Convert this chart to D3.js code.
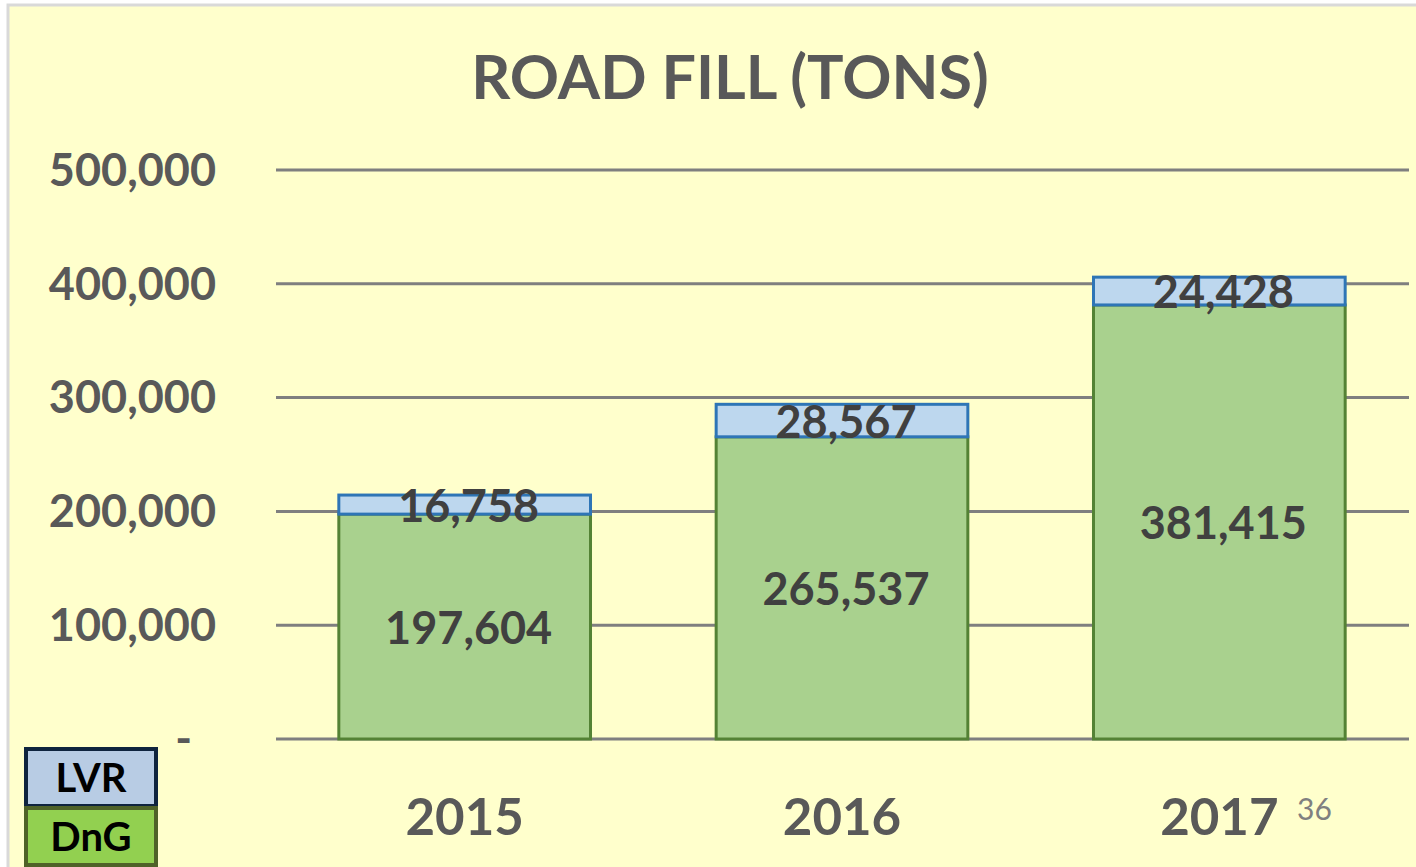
<!DOCTYPE html>
<html>
<head>
<meta charset="utf-8">
<script src="https://cdn.jsdelivr.net/npm/d3@7/dist/d3.min.js"></script>
<style>
  html, body { margin: 0; padding: 0; background: #ffffff; }
  svg { display: block; }
</style>
</head>
<body>
<div id="chart"></div>
<script>
// Chart data.
var years = [ '2015', '2016', '2017' ];
var dng_values = [ 197604, 265537, 381415 ];
var lvr_values = [ 16758, 28567, 24428 ];
var y_ticks = [ 0, 100000, 200000, 300000, 400000, 500000 ];
var legend_items = [ 'LVR', 'DnG' ];
var chart_title = 'ROAD FILL (TONS)';
var page_number = '36';

var width = 1416, height = 867;
var font = 'Lato, "Open Sans", sans-serif';

var svg = d3.select( '#chart' )
  .append( 'svg' )
    .attr( 'width', width )
    .attr( 'height', height );

// Slide background with thin frame.
svg.append( 'rect' )
  .attr( 'x', 8 ).attr( 'y', 5 )
  .attr( 'width', width ).attr( 'height', height )
  .attr( 'fill', '#ffffcc' )
  .attr( 'stroke', '#d9d9d9' )
  .attr( 'stroke-width', 3 );

// Scales.
var xScale = d3.scaleBand()
  .domain( years )
  .range( [ 276, 1408 ] )
  .paddingInner( 0.333 )
  .paddingOuter( 0.1665 );

var yScale = d3.scaleLinear()
  .domain( [ 0, 500000 ] )
  .range( [ 739, 170 ] );

// Grid lines.
svg.append( 'g' )
  .selectAll( 'line' )
  .data( y_ticks )
  .enter()
  .append( 'line' )
    .attr( 'x1', 276 )
    .attr( 'x2', 1409 )
    .attr( 'y1', function( d ){ return yScale( d ); } )
    .attr( 'y2', function( d ){ return yScale( d ); } )
    .attr( 'stroke', '#7f7f7f' )
    .attr( 'stroke-width', 3 );

// Y axis labels (use d3 axis then style).
var yAxis = svg.append( 'g' )
  .attr( 'transform', 'translate(216, 0)' )
  .call( d3.axisLeft( yScale )
    .tickValues( y_ticks )
    .tickSize( 0 )
    .tickPadding( 0 )
    .tickFormat( function( d ){ return d === 0 ? '-' : d3.format( ',' )( d ); } ) );
yAxis.select( '.domain' ).remove();
yAxis.selectAll( 'text' )
  .attr( 'dy', '0.34em' )
  .attr( 'fill', '#595959' )
  .style( 'font-family', font )
  .style( 'font-weight', 'bold' )
  .style( 'font-size', '45px' );
// Zero label dash sits a bit left.
yAxis.selectAll( '.tick' ).filter( function( d ){ return d === 0; } )
  .select( 'text' ).attr( 'x', -24 );

// X axis labels.
var xAxis = svg.append( 'g' )
  .attr( 'transform', 'translate(0, 739)' )
  .call( d3.axisBottom( xScale ).tickSize( 0 ).tickPadding( 0 ) );
xAxis.select( '.domain' ).remove();
xAxis.selectAll( 'text' )
  .attr( 'y', 96 )
  .attr( 'dy', 0 )
  .attr( 'fill', '#595959' )
  .style( 'font-family', font )
  .style( 'font-weight', 'bold' )
  .style( 'font-size', '51px' );

// Stacked bars.
var rows = years.map( function( y, i ){
  return { year: y, DnG: dng_values[ i ], LVR: lvr_values[ i ] };
});
var stack = d3.stack().keys( [ 'DnG', 'LVR' ] )( rows );
var fills = { DnG: '#a9d18e', LVR: '#bdd7ee' };
var strokes = { DnG: '#548235', LVR: '#2e75b6' };

var layers = svg.append( 'g' )
  .selectAll( 'g' )
  .data( stack )
  .enter()
  .append( 'g' );

layers.selectAll( 'rect' )
  .data( function( s ){ return s.map( function( d ){ d.key = s.key; return d; } ); } )
  .enter()
  .append( 'rect' )
    .attr( 'x', function( d ){ return xScale( d.data.year ); } )
    .attr( 'y', function( d ){ return yScale( d[1] ); } )
    .attr( 'width', xScale.bandwidth() )
    .attr( 'height', function( d ){ return yScale( d[0] ) - yScale( d[1] ); } )
    .attr( 'fill', function( d ){ return fills[ d.key ]; } )
    .attr( 'stroke', function( d ){ return strokes[ d.key ]; } )
    .attr( 'stroke-width', 3 );

// Data labels, centred in each segment.
layers.selectAll( 'text' )
  .data( function( s ){ return s; } )
  .enter()
  .append( 'text' )
    .attr( 'x', function( d ){ return xScale( d.data.year ) + xScale.bandwidth() / 2 + 4; } )
    .attr( 'y', function( d ){ return ( yScale( d[0] ) + yScale( d[1] ) ) / 2 + 2; } )
    .attr( 'dy', '0.34em' )
    .attr( 'text-anchor', 'middle' )
    .attr( 'fill', '#404040' )
    .style( 'font-family', font )
    .style( 'font-weight', 'bold' )
    .style( 'font-size', '45px' )
    .text( function( d ){ return d3.format( ',' )( d.data[ d.key ] ); } );

// Title.
svg.append( 'text' )
  .attr( 'x', 730 )
  .attr( 'y', 99 )
  .attr( 'text-anchor', 'middle' )
  .attr( 'fill', '#595959' )
  .style( 'font-family', font )
  .style( 'font-weight', 'bold' )
  .style( 'font-size', '61px' )
  .text( chart_title );

// Legend boxes.
var legend_fill = { LVR: '#b8cce4', DnG: '#92d050' };
var legend_stroke = { LVR: '#0f243e', DnG: '#4f6228' };
var legend = svg.append( 'g' )
  .selectAll( 'g' )
  .data( legend_items )
  .enter()
  .append( 'g' )
    .attr( 'transform', function( d, i ){ return 'translate(26, ' + ( 749 + i * 59 ) + ')'; } );
legend.append( 'rect' )
  .attr( 'width', 130 )
  .attr( 'height', 57 )
  .attr( 'fill', function( d ){ return legend_fill[ d ]; } )
  .attr( 'stroke', function( d ){ return legend_stroke[ d ]; } )
  .attr( 'stroke-width', 4 );
legend.append( 'text' )
  .attr( 'x', 65 )
  .attr( 'y', 29 )
  .attr( 'dy', '0.36em' )
  .attr( 'text-anchor', 'middle' )
  .attr( 'fill', '#000000' )
  .style( 'font-family', font )
  .style( 'font-weight', 'bold' )
  .style( 'font-size', '40px' )
  .text( function( d ){ return d; } );

// Slide number.
svg.append( 'text' )
  .attr( 'x', 1297 )
  .attr( 'y', 820 )
  .attr( 'fill', '#808080' )
  .style( 'font-family', font )
  .style( 'font-size', '30px' )
  .text( page_number );
</script>
</body>
</html>
